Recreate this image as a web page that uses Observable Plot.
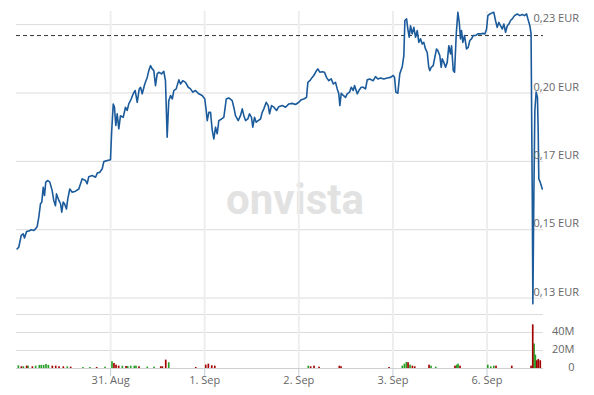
<!DOCTYPE html>
<html><head><meta charset="utf-8">
<script src="https://cdn.jsdelivr.net/npm/d3@7"></script>
<script src="https://cdn.jsdelivr.net/npm/@observablehq/plot@0.6"></script>
<style>
html,body{margin:0;padding:0;background:#fff;}
#chart{position:relative;width:594px;height:395px;overflow:hidden;font-family:"Open Sans",sans-serif;}
#chart svg{position:absolute;left:0;}
</style></head><body><div id="chart"></div>
<script>
const dayTicks=[1,2,3,4,5];
const dayLabels=["31. Aug","1. Sep","2. Sep","3. Sep","6. Sep"];
const priceTicks=[0.125,0.15,0.175,0.2,0.225];
const priceTickLabels=["0,13 EUR","0,15 EUR","0,17 EUR","0,20 EUR","0,23 EUR"];
const prevClose=0.2210;
const volumeTicks=[0,20,40,60];
const volumeTickLabels=["0","20M","40M"];
const sessionSpan=[0,5.6];

const priceTime=[0.007,0.024,0.050,0.071,0.085,0.106,0.131,0.156,0.184,0.202,0.220,0.237,0.255,0.269,0.284,0.298,0.311,0.333,0.354,0.379,0.396,0.414,0.425,0.450,0.468,0.481,0.496,0.510,0.531,0.545,0.566,0.592,0.627,0.662,0.698,0.733,0.751,0.768,0.804,0.840,0.858,0.885,0.911,0.928,0.964,0.999,
1.010,1.028,1.041,1.055,1.070,1.087,1.105,1.134,1.158,1.176,1.193,1.219,1.240,1.261,1.283,1.304,1.318,1.336,1.363,1.389,1.406,1.424,1.442,1.459,1.477,1.495,1.512,1.541,1.565,1.583,1.601,1.618,1.637,1.655,1.672,1.697,1.725,1.743,1.767,1.796,1.825,1.849,1.874,1.902,1.937,1.973,
2.001,2.016,2.027,2.044,2.062,2.080,2.097,2.115,2.133,2.150,2.179,2.203,2.229,2.256,2.292,2.309,2.327,2.356,2.380,2.399,2.416,2.434,2.458,2.476,2.497,2.511,2.529,2.547,2.568,2.593,2.611,2.628,2.654,2.675,2.689,2.710,2.735,2.763,2.787,2.824,2.859,2.894,2.930,2.965,
3.000,3.025,3.053,3.082,3.096,3.117,3.142,3.159,3.188,3.202,3.223,3.249,3.273,3.294,3.319,3.344,3.366,3.390,3.408,3.425,3.436,3.451,3.472,3.496,3.514,3.539,3.557,3.578,3.592,3.621,3.638,3.663,3.684,3.709,3.727,3.754,3.791,3.815,3.840,3.868,3.903,3.939,3.974,
4.003,4.017,4.031,4.052,4.073,4.099,4.116,4.127,4.145,4.158,4.173,4.187,4.205,4.222,4.240,4.258,4.275,4.293,4.311,4.328,4.346,4.364,4.381,4.392,4.407,4.428,4.442,4.463,4.477,4.498,4.513,4.524,4.541,4.559,4.577,4.594,4.612,4.623,4.641,4.655,4.673,4.690,4.705,4.718,4.729,4.743,4.761,4.782,4.800,4.817,4.835,4.853,4.878,4.902,4.931,4.955,4.977,4.995,
5.009,5.030,5.055,5.072,5.090,5.108,5.125,5.143,5.162,5.179,5.197,5.215,5.232,5.250,5.268,5.292,5.321,5.349,5.374,5.398,5.420,5.434,5.455,5.468,5.473,5.481,5.487,5.497,5.508,5.522,5.536,5.544,5.550,5.565,5.587];

const priceValue=[0.1430,0.1436,0.1479,0.1485,0.1470,0.1493,0.1495,0.1500,0.1497,0.1503,0.1512,0.1546,0.1595,0.1601,0.1655,0.1625,0.1674,0.1680,0.1674,0.1643,0.1607,0.1588,0.1631,0.1607,0.1595,0.1564,0.1601,0.1595,0.1576,0.1613,0.1649,0.1637,0.1641,0.1649,0.1686,0.1680,0.1668,0.1694,0.1698,0.1692,0.1707,0.1710,0.1723,0.1749,0.1753,0.1756,
0.1851,0.1960,0.1948,0.1881,0.1924,0.1869,0.1917,0.1911,0.1948,0.1936,0.1960,0.1978,0.1997,0.2009,0.1966,0.2015,0.2021,0.1997,0.2033,0.2057,0.2082,0.2100,0.2088,0.2082,0.2027,0.2070,0.2076,0.2070,0.2079,0.2045,0.1838,0.1972,0.1991,0.1978,0.2009,0.2015,0.2048,0.2033,0.2045,0.2039,0.2021,0.2015,0.2003,0.2009,0.1997,0.1991,
0.1978,0.1936,0.1899,0.1929,0.1929,0.1863,0.1832,0.1875,0.1851,0.1899,0.1905,0.1911,0.1978,0.1982,0.1972,0.1948,0.1917,0.1899,0.1917,0.1942,0.1917,0.1899,0.1905,0.1924,0.1911,0.1875,0.1911,0.1893,0.1899,0.1905,0.1929,0.1942,0.1966,0.1954,0.1924,0.1954,0.1948,0.1936,0.1950,0.1954,0.1948,0.1960,0.1962,0.1958,
0.1966,0.1975,0.1978,0.1984,0.2039,0.2045,0.2057,0.2064,0.2082,0.2088,0.2076,0.2078,0.2076,0.2057,0.2045,0.2052,0.2033,0.2039,0.2015,0.1997,0.1954,0.1999,0.1991,0.1984,0.1997,0.2003,0.2021,0.2009,0.2027,0.1997,0.2009,0.2021,0.2021,0.2015,0.2048,0.2051,0.2045,0.2060,0.2051,0.2055,0.2051,0.2055,0.2057,
0.2064,0.2057,0.2003,0.1999,0.2070,0.2096,0.2137,0.2265,0.2271,0.2234,0.2204,0.2246,0.2216,0.2240,0.2204,0.2228,0.2185,0.2198,0.2179,0.2185,0.2161,0.2149,0.2094,0.2082,0.2094,0.2100,0.2125,0.2161,0.2155,0.2137,0.2094,0.2125,0.2112,0.2094,0.2112,0.2173,0.2143,0.2173,0.2082,0.2076,0.2216,0.2295,0.2258,0.2198,0.2228,0.2185,0.2210,0.2161,0.2167,0.2192,0.2198,0.2210,0.2210,0.2216,0.2216,0.2218,0.2216,0.2234,
0.2283,0.2289,0.2293,0.2295,0.2265,0.2240,0.2258,0.2246,0.2234,0.2252,0.2222,0.2246,0.2252,0.2265,0.2271,0.2283,0.2289,0.2283,0.2287,0.2283,0.2289,0.2271,0.2246,0.2216,0.1972,0.1607,0.1229,0.1607,0.1936,0.2003,0.1984,0.1851,0.1686,0.1674,0.1649];

const volTime=[0.025,0.057,0.078,0.113,0.128,0.174,0.209,0.248,0.269,0.294,0.319,0.344,0.386,0.422,0.457,0.503,0.545,0.581,0.712,0.786,0.857,0.946,
1.020,1.041,1.063,1.091,1.130,1.169,1.187,1.219,1.257,1.275,1.307,1.395,1.467,1.538,1.555,1.591,1.623,1.910,
2.016,2.044,2.080,2.112,3.106,3.131,3.167,3.220,3.436,3.454,3.964,
4.105,4.127,4.148,4.166,4.187,4.212,4.237,4.389,4.410,4.460,4.665,4.683,4.697,4.718,
5.013,5.045,5.077,5.101,5.268,5.473,5.491,5.505,5.519,5.534,5.550,5.571];
const volValue=[3.0,1.9,1.9,2.6,2.6,1.9,2.6,3.4,3.4,3.4,4.5,3.4,2.6,2.6,1.9,1.9,1.9,1.5,1.1,1.1,1.1,1.5,
7.5,5.6,3.7,2.6,2.6,2.2,2.2,2.6,2.6,2.6,1.9,1.5,1.5,1.9,1.9,9.3,6.4,1.1,
3.7,4.8,3.0,2.6,2.6,1.9,2.6,1.5,2.6,1.9,1.1,
2.6,4.8,6.7,6.4,3.7,2.6,1.9,3.7,2.6,1.5,2.6,3.7,4.8,2.6,
3.7,1.9,2.6,2.6,2.6,2.6,48.5,27.2,14.9,8.6,10.1,8.6];
const volDir=["u","d","u","d","u","d","u","u","u","u","u","u","d","d","d","d","u","d","u","u","d","u",
"u","d","d","d","u","d","u","u","u","u","d","u","u","d","d","d","u","d",
"d","d","d","d","u","d","d","d","d","d","d",
"u","u","u","d","u","d","d","d","u","u","d","u","u","d",
"u","u","u","d","d","d","d","u","u","d","d","d"];

const slot=1/56;
const prices=priceTime.map((t,i)=>({t,p:priceValue[i]}));
const vols=volTime.map((t,i)=>({t,v:volValue[i],dir:volDir[i]}));

const baseStyle={fontFamily:"Open Sans",fontSize:"11px",background:"transparent"};

const pricePlot=Plot.plot({
  width:594,height:314,marginLeft:16,marginRight:51,marginTop:11,marginBottom:0,
  x:{domain:sessionSpan,axis:null},
  y:{domain:[0.119,0.2298],axis:null},
  style:baseStyle,
  marks:[
    Plot.text(["onvista"],{frameAnchor:"middle",dx:15,dy:38,fontSize:42,fontWeight:"bold",fill:"#e2e2e2",fontFamily:"Roboto"}),
    Plot.ruleY(priceTicks,{stroke:"#dcdcdc"}),
    Plot.ruleX(dayTicks,{stroke:"#eeeeee",strokeWidth:2}),
    Plot.ruleY([prevClose],{stroke:"#333",strokeDasharray:"4,3"}),
    Plot.line(prices,{x:"t",y:"p",stroke:"#1b5b9b",strokeWidth:1.6}),
    Plot.text(priceTicks,{y:d=>d,text:(d,i)=>priceTickLabels[i],frameAnchor:"right",textAnchor:"start",dx:-10,dy:-6,fill:"#666"})
  ]
});
pricePlot.style.top="0px";

const volPlot=Plot.plot({
  width:594,height:82,marginLeft:16,marginRight:51,marginTop:1,marginBottom:27,
  x:{domain:sessionSpan,axis:null},
  y:{domain:[0,60],axis:null},
  style:baseStyle,
  marks:[
    Plot.ruleY(volumeTicks,{stroke:"#dcdcdc"}),
    Plot.ruleX(dayTicks,{stroke:"#eeeeee",strokeWidth:2}),
    Plot.ruleX(dayTicks,{y1:0,y2:0,insetBottom:-8,stroke:"#c5ccd6"}),
    Plot.rect(vols.filter(d=>d.dir==="u"),{x1:d=>d.t-slot/2,x2:d=>d.t+slot/2,y1:0,y2:"v",fill:"#28a028"}),
    Plot.rect(vols.filter(d=>d.dir==="d"),{x1:d=>d.t-slot/2,x2:d=>d.t+slot/2,y1:0,y2:"v",fill:"#a40000"}),
    Plot.ruleY([0],{stroke:"#cfcfcf"}),
    Plot.text(dayTicks,{x:d=>d,text:(d,i)=>dayLabels[i],frameAnchor:"bottom",dy:15,fill:"#666"}),
    Plot.text(volumeTicks.slice(0,3),{y:d=>d,text:(d,i)=>volumeTickLabels[i],frameAnchor:"right",textAnchor:"end",dx:31,dy:-1.5,fill:"#666"})
  ]
});
volPlot.style.top="313px";

const el=document.getElementById("chart");
el.appendChild(pricePlot);
el.appendChild(volPlot);
</script></body></html>
